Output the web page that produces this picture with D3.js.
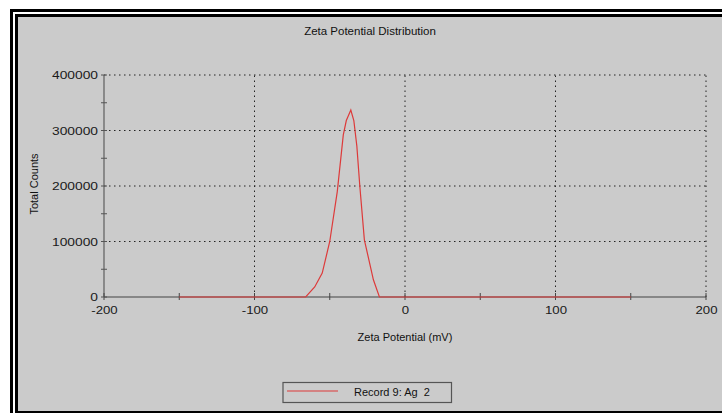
<!DOCTYPE html>
<html><head><meta charset="utf-8">
<script src="https://cdn.jsdelivr.net/npm/d3@7"></script>
<style>
html,body{margin:0;padding:0;background:#fff;}
svg{display:block;font-family:"Liberation Sans",Arial,sans-serif;}
</style></head>
<body>
<svg id="chart" width="722" height="413"></svg>
<script>
// ---- data ----
const zeta = [-150, -66, -60, -55, -50, -45, -41, -39, -36, -34, -32, -30, -27, -21, -17, 150];
const counts = [0, 0, 18000, 43000, 100000, 190000, 292000, 318000, 337000, 318000, 272000, 199000, 103000, 31000, 0, 0];
const xTicks = [-200, -100, 0, 100, 200];
const xMinor = [-200, -150, -100, -50, 0, 50, 100, 150, 200];
const yTicks = [0, 100000, 200000, 300000, 400000];
const yMinor = [50000, 150000, 250000, 350000];
const title = "Zeta Potential Distribution";
const xLabel = "Zeta Potential (mV)";
const yLabel = "Total Counts";
const seriesName = "Record 9: Ag  2";

const svg = d3.select("#chart");
// frame
svg.append("rect").attr("x",10).attr("y",9).attr("width",712).attr("height",404).attr("fill","#000");
svg.append("rect").attr("x",13).attr("y",12).attr("width",709).attr("height",401).attr("fill","#fff");
svg.append("rect").attr("x",15).attr("y",14).attr("width",707).attr("height",399).attr("fill","#000");
svg.append("rect").attr("x",18).attr("y",17).attr("width",704).attr("height",394).attr("fill","#cbcbcb");

const L=104, R=706, T=75, B=297;
const x = d3.scaleLinear().domain([-200,200]).range([L,R]);
const y = d3.scaleLinear().domain([0,400000]).range([B,T]);

// grid
const grid = svg.append("g");
grid.selectAll("line.v").data(xTicks.filter(d=>d>-200)).join("line")
  .attr("x1",d=>x(d)).attr("x2",d=>x(d)).attr("y1",y(0)).attr("y2",y(400000))
  .attr("stroke","#222").attr("stroke-width",1).attr("stroke-dasharray","1.5,3.5");
grid.selectAll("line.h").data(yTicks.filter(d=>d>0)).join("line")
  .attr("x1",x(-200)).attr("x2",x(200)).attr("y1",d=>y(d)).attr("y2",d=>y(d))
  .attr("stroke","#222").attr("stroke-width",1).attr("stroke-dasharray","1.5,3.5");

// axes lines
svg.append("line").attr("x1",x(-200)).attr("x2",x(-200)).attr("y1",y(0)).attr("y2",y(400000))
  .attr("stroke","#666").attr("stroke-width",1.3);
svg.append("line").attr("x1",x(-200)).attr("x2",x(200)).attr("y1",y(0)).attr("y2",y(0))
  .attr("stroke","#444").attr("stroke-width",1.2);

// minor / major ticks
svg.selectAll("line.xt").data(xMinor).join("line")
  .attr("x1",d=>x(d)).attr("x2",d=>x(d)).attr("y1",y(0)-4).attr("y2",y(0)+3)
  .attr("stroke","#444").attr("stroke-width",1);
svg.selectAll("line.yt").data(yMinor.concat(yTicks)).join("line")
  .attr("x1",x(-200)-3).attr("x2",x(-200)+3).attr("y1",d=>y(d)).attr("y2",d=>y(d))
  .attr("stroke","#555").attr("stroke-width",1);

// tick labels via d3 axes
const fmt = d => String(d);
const xAxis = d3.axisBottom(x).tickValues(xTicks).tickSize(0).tickPadding(9).tickFormat(fmt);
const gx = svg.append("g").attr("transform",`translate(0,${B})`).call(xAxis);
gx.select(".domain").remove();
gx.selectAll("text").attr("font-size",11.5).attr("fill","#1a1a1a").attr("font-family","Liberation Sans, Arial, sans-serif")
  .attr("transform","scale(1.15,1)");

const yAxis = d3.axisLeft(y).tickValues(yTicks).tickSize(0).tickPadding(6).tickFormat(fmt);
const gy = svg.append("g").attr("transform",`translate(${L},0)`).call(yAxis);
gy.select(".domain").remove();
gy.selectAll("text").attr("font-size",11.5).attr("fill","#1a1a1a").attr("font-family","Liberation Sans, Arial, sans-serif")
  .attr("transform","scale(1.2,1)").attr("x",-6/1.2);

// data line
const line = d3.line().x((d,i)=>x(zeta[i])).y(d=>y(d));
svg.append("path").datum(counts).attr("d",line).attr("fill","none")
  .attr("stroke","#dd3a3a").attr("stroke-width",1.2);

// titles
svg.append("text").attr("x",370).attr("y",35).attr("text-anchor","middle")
  .attr("font-size",11.5).attr("fill","#111").text(title);
svg.append("text").attr("x",405).attr("y",341).attr("text-anchor","middle")
  .attr("font-size",11).attr("fill","#111").text(xLabel);
svg.append("text").attr("transform","translate(38,184) rotate(-90)").attr("text-anchor","middle")
  .attr("font-size",11).attr("fill","#111").text(yLabel);

// legend
const lg = svg.append("g");
lg.append("rect").attr("x",283).attr("y",382.5).attr("width",168.5).attr("height",20).attr("fill","none")
  .attr("stroke","#555").attr("stroke-width",1.2);
lg.append("line").attr("x1",287).attr("x2",338).attr("y1",391).attr("y2",391).attr("stroke","#dd3a3a").attr("stroke-width",1.2);
lg.append("text").attr("x",354).attr("y",396).attr("font-size",11).attr("fill","#111")
  .style("white-space","pre").text(seriesName);
</script>
</body></html>
